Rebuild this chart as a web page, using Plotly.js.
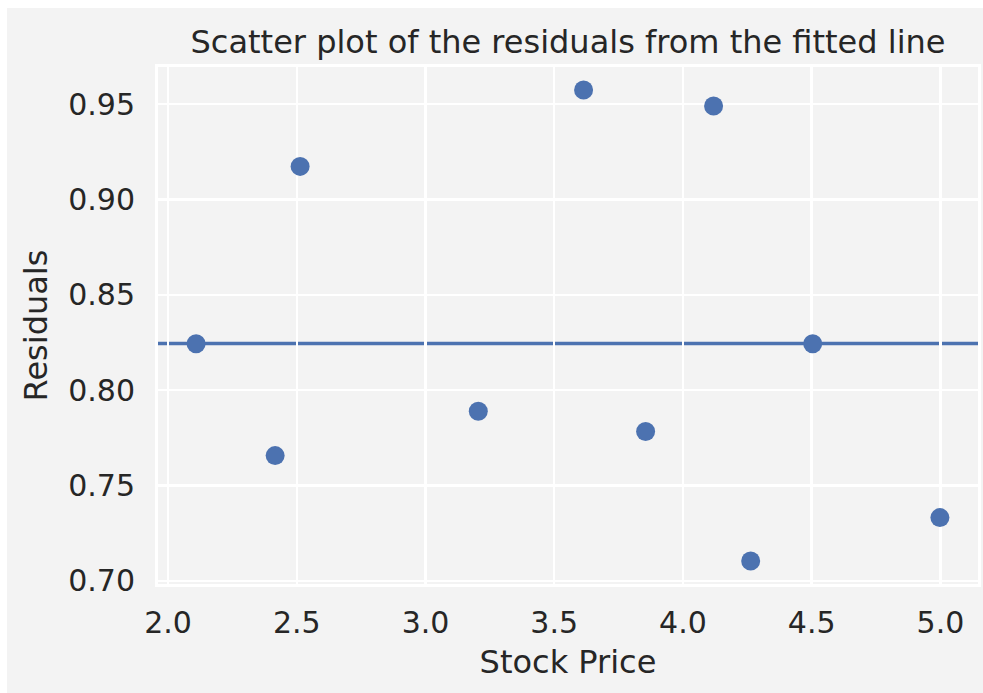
<!DOCTYPE html>
<html>
<head>
<meta charset="utf-8">
<script src="https://cdn.plot.ly/plotly-3.0.1.min.js"></script>
<style>
  html, body { margin: 0; padding: 0; background: #f3f3f3; overflow: hidden; width: 983px; height: 693px; }
  #frame { position: absolute; left: 0; top: 0; width: 976px; height: 685px;
           border-left: 7px solid #ffffff; border-top: 8px solid #ffffff; }
  #chart { width: 976px; height: 685px; }
</style>
</head>
<body>
<div id="frame"><div id="chart"></div></div>
<script>
// stock price vs residual
const stockPrice = [2.109, 2.416, 2.513, 3.205, 3.614, 3.855, 4.119, 4.263, 4.504, 4.998];
const residuals = [0.8243, 0.7657, 0.9173, 0.789, 0.9573, 0.7783, 0.949, 0.7105, 0.8243, 0.7332];
const meanResidual = 0.8245;

const xTicks = [2.0, 2.5, 3.0, 3.5, 4.0, 4.5, 5.0];
const xTickText = ['2.0', '2.5', '3.0', '3.5', '4.0', '4.5', '5.0'];
const yTicks = [0.70, 0.75, 0.80, 0.85, 0.90, 0.95];
const yTickText = ['0.70', '0.75', '0.80', '0.85', '0.90', '0.95'];

const blue = '#4c72b0';
const gray = '#f3f3f3';
const font = 'DejaVu Sans, sans-serif';
const textColor = '#262626';

var data = [
    {
        x: stockPrice,
        y: residuals,
        mode: 'markers',
        type: 'scatter',
        marker: { color: blue, size: 19 },
        showlegend: false
    }
];

var axisStyle = {
    showgrid: true,
    gridcolor: '#ffffff',
    gridwidth: 2.5,
    zeroline: false,
    showline: true,
    linecolor: '#ffffff',
    linewidth: 3,
    mirror: true,
    ticks: '',
    tickfont: { family: font, size: 30, color: textColor }
};

var layout = {
    width: 976,
    height: 685,
    paper_bgcolor: gray,
    plot_bgcolor: gray,
    margin: { l: 151, r: 5, t: 59, b: 109 },
    font: { family: font, color: textColor },
    title: {
        text: 'Scatter plot of the residuals from the fitted line',
        font: { family: font, size: 32, color: textColor },
        xref: 'paper', x: 0.5, xanchor: 'center',
        yref: 'container', y: 1 - 34 / 685, yanchor: 'middle'
    },
    xaxis: Object.assign({}, axisStyle, {
        range: [1.961, 5.146],
        tickvals: xTicks,
        ticktext: xTickText,
        ticklabelstandoff: 10,
        title: { text: 'Stock Price', font: { family: font, size: 32, color: textColor }, standoff: 12 }
    }),
    yaxis: Object.assign({}, axisStyle, {
        range: [0.6984, 0.9694],
        tickvals: yTicks,
        ticktext: yTickText,
        ticklabelstandoff: 14,
        title: { text: 'Residuals', font: { family: font, size: 32, color: textColor }, standoff: 12 }
    }),
    shapes: [
        {
            type: 'line',
            xref: 'paper', x0: 0, x1: 1,
            yref: 'y', y0: meanResidual, y1: meanResidual,
            line: { color: blue, width: 3.5 },
            layer: 'below'
        }
    ]
};

Plotly.newPlot('chart', data, layout, { displayModeBar: false, staticPlot: true });
</script>
</body>
</html>
